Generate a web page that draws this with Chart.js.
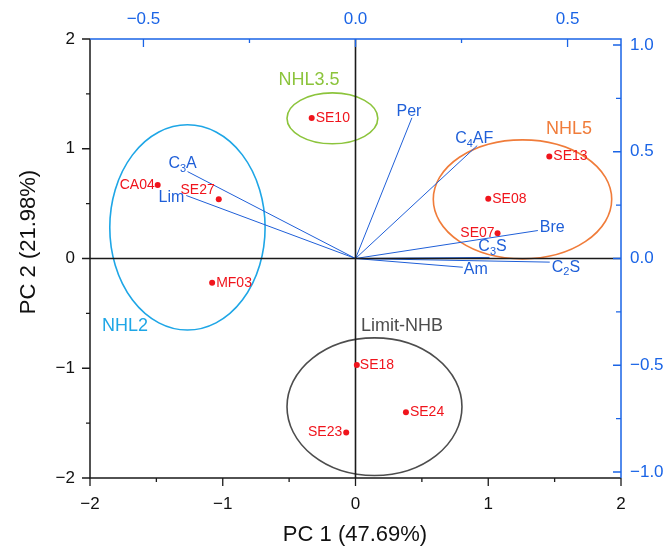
<!DOCTYPE html>
<html lang="en">
<head>
<meta charset="UTF-8">
<title>PCA biplot</title>
<script src="https://cdn.jsdelivr.net/npm/chart.js@4.4.1/dist/chart.umd.min.js"></script>
<style>
  html, body { margin: 0; padding: 0; background: #fff; }
  #wrap { width: 665px; height: 551px; }
</style>
</head>
<body>
<div id="wrap"><canvas id="pca" width="665" height="551"></canvas></div>
<script>
// sample scores (bottom / left axes)
var sampleNames = ['CA04', 'SE27', 'MF03', 'SE10', 'SE13', 'SE08', 'SE07', 'SE18', 'SE24', 'SE23'];
var pc1Scores = [-1.49, -1.03, -1.08, -0.33, 1.46, 1.00, 1.07, 0.01, 0.38, -0.07];
var pc2Scores = [0.67, 0.54, -0.22, 1.28, 0.93, 0.545, 0.23, -0.97, -1.40, -1.585];

// variable loadings (top / right axes), "_" = subscript
var varNames = ['C_3A', 'Lim', 'Per', 'C_4AF', 'Bre', 'C_3S', 'Am', 'C_2S'];
var pc1Loadings = [-0.396, -0.399, 0.133, 0.287, 0.430, 0.316, 0.253, 0.458];
var pc2Loadings = [0.407, 0.295, 0.659, 0.529, 0.131, 0.005, -0.041, -0.017];

// groups (ellipses in score units)
var groupNames = ['NHL2', 'NHL3.5', 'NHL5', 'Limit-NHB'];
var groupCx = [-1.266, -0.174, 1.258, 0.143];
var groupCy = [0.283, 1.277, 0.539, -1.350];
var groupRx = [0.585, 0.342, 0.672, 0.659];
var groupRy = [0.935, 0.232, 0.542, 0.627];

// tick labels
var scoreTicks = [-2, -1, 0, 1, 2];
var loadXTicks = [-0.5, 0, 0.5];
var loadYTicks = [-1, -0.5, 0, 0.5, 1];

// ---- styling ----
var FONT = '"Liberation Sans", Arial, sans-serif';
var RED = '#f0141c';
var BLUE = '#1f5fd8';
var AXBLUE = '#1a64e6';
var groupColors = ['#1ea6e6', '#8cc43c', '#f07c3a', '#4d4d4d'];
// where the group names sit (score units)
var groupLabelAt = [[-1.736, -0.615], [-0.350, 1.626], [1.608, 1.180], [0.350, -0.615]];
// sample label placement: [align, dx, dy]
var sampleLabelPos = {
  CA04: ['right', -3, 0], SE27: ['right', -4, -9], MF03: ['left', 4, 0],
  SE10: ['left', 4, 0], SE13: ['left', 4, 0], SE08: ['left', 4, 0],
  SE07: ['right', -3, 0], SE18: ['left', 3, 0], SE24: ['left', 4, 0],
  SE23: ['right', -4, 0]
};
// loading label placement: [align, dx, dy]
var varLabelPos = {
  C_3A: ['center', -5, -8], Lim: ['right', -2, 2], Per: ['center', -3, -6],
  C_4AF: ['center', -3, -7], Bre: ['left', 2, -3], C_3S: ['center', 3, -11],
  Am: ['left', 1, 2], C_2S: ['left', 2, 5]
};

function fmt(v, dec) {
  var s = Math.abs(v).toFixed(dec);
  return v < 0 ? '\u2212' + s : s;
}

// text with subscripts, vertically centred on y
function drawRich(ctx, name, x, y, align, size) {
  var parts = [];
  for (var k = 0; k < name.length; k++) {
    if (name[k] === '_') { parts.push({ t: name[k + 1], sub: true }); k++; }
    else parts.push({ t: name[k], sub: false });
  }
  var subSize = Math.round(size * 0.7);
  var w = 0;
  parts.forEach(function (p) {
    ctx.font = (p.sub ? subSize : size) + 'px ' + FONT;
    p.w = ctx.measureText(p.t).width;
    w += p.w;
  });
  var sx = align === 'center' ? x - w / 2 : (align === 'right' ? x - w : x);
  ctx.textAlign = 'left';
  ctx.textBaseline = 'middle';
  parts.forEach(function (p) {
    ctx.font = (p.sub ? subSize : size) + 'px ' + FONT;
    ctx.fillText(p.t, sx, p.sub ? y + size * 0.32 : y);
    sx += p.w;
  });
}

var biplotPlugin = {
  id: 'biplot',
  beforeDatasetsDraw: function (chart) {
    var ctx = chart.ctx, xs = chart.scales.x, ys = chart.scales.y;
    ctx.save();
    groupNames.forEach(function (g, i) {
      var cx = xs.getPixelForValue(groupCx[i]);
      var cy = ys.getPixelForValue(groupCy[i]);
      var rx = xs.getPixelForValue(groupCx[i] + groupRx[i]) - cx;
      var ry = cy - ys.getPixelForValue(groupCy[i] + groupRy[i]);
      ctx.beginPath();
      ctx.ellipse(cx, cy, rx, ry, 0, 0, Math.PI * 2);
      ctx.strokeStyle = groupColors[i];
      ctx.lineWidth = 1.6;
      ctx.stroke();
    });
    ctx.restore();
  },
  afterDatasetDraw: function (chart, args) {
    // zero lines go over the loading vectors, under the sample points
    if (args.index !== 1) return;
    var ctx = chart.ctx, a = chart.chartArea;
    var x0 = chart.scales.x.getPixelForValue(0), y0 = chart.scales.y.getPixelForValue(0);
    ctx.save();
    ctx.strokeStyle = '#1a1a1a';
    ctx.lineWidth = 1.6;
    ctx.beginPath();
    ctx.moveTo(x0, a.top); ctx.lineTo(x0, a.bottom);
    ctx.moveTo(a.left, y0); ctx.lineTo(a.right, y0);
    ctx.stroke();
    ctx.restore();
  },
  afterDraw: function (chart) {
    var ctx = chart.ctx, a = chart.chartArea, s = chart.scales;
    ctx.save();

    // sample labels
    ctx.fillStyle = RED;
    sampleNames.forEach(function (n, i) {
      var p = sampleLabelPos[n];
      drawRich(ctx, n, s.x.getPixelForValue(pc1Scores[i]) + p[1], s.y.getPixelForValue(pc2Scores[i]) + p[2], p[0], 14);
    });
    // loading labels
    ctx.fillStyle = BLUE;
    varNames.forEach(function (n, i) {
      var p = varLabelPos[n];
      drawRich(ctx, n, s.x2.getPixelForValue(pc1Loadings[i]) + p[1], s.y2.getPixelForValue(pc2Loadings[i]) + p[2], p[0], 16);
    });
    // group names
    groupNames.forEach(function (g, i) {
      ctx.fillStyle = groupColors[i];
      drawRich(ctx, g, s.x.getPixelForValue(groupLabelAt[i][0]), s.y.getPixelForValue(groupLabelAt[i][1]), 'center', 18);
    });

    // frame
    ctx.lineWidth = 1.5;
    ctx.strokeStyle = '#1a1a1a';
    ctx.beginPath();
    ctx.moveTo(a.left, a.top); ctx.lineTo(a.left, a.bottom); ctx.lineTo(a.right, a.bottom);
    ctx.stroke();
    ctx.strokeStyle = AXBLUE;
    ctx.beginPath();
    ctx.moveTo(a.left, a.top); ctx.lineTo(a.right, a.top); ctx.lineTo(a.right, a.bottom);
    ctx.stroke();

    // tick marks (major + minor)
    var v, px, len;
    ctx.lineWidth = 1.3;
    ctx.strokeStyle = '#1a1a1a';
    ctx.beginPath();
    for (v = -2; v <= 2.001; v += 0.5) {
      len = Math.abs(v % 1) < 1e-6 ? 8 : 4;
      px = s.y.getPixelForValue(v);
      ctx.moveTo(a.left - len, px); ctx.lineTo(a.left, px);
      px = s.x.getPixelForValue(v);
      ctx.moveTo(px, a.bottom); ctx.lineTo(px, a.bottom + len);
    }
    ctx.stroke();
    ctx.strokeStyle = AXBLUE;
    ctx.beginPath();
    for (v = -0.5; v <= 0.501; v += 0.25) {
      len = Math.abs((v * 2) % 1) < 1e-6 ? 8 : 4;
      px = s.x2.getPixelForValue(v);
      ctx.moveTo(px, a.top); ctx.lineTo(px, a.top + len);
    }
    for (v = -1; v <= 1.001; v += 0.25) {
      len = Math.abs((v * 2) % 1) < 1e-6 ? 8 : 5;
      px = s.y2.getPixelForValue(v);
      ctx.moveTo(a.right - len, px); ctx.lineTo(a.right, px);
    }
    ctx.stroke();

    // axis titles
    ctx.fillStyle = '#111';
    ctx.font = '22px ' + FONT;
    ctx.textAlign = 'center';
    ctx.textBaseline = 'middle';
    ctx.fillText('PC 1 (47.69%)', 355, 535);
    ctx.translate(29, 242);
    ctx.rotate(-Math.PI / 2);
    ctx.fillText('PC 2 (21.98%)', 0, 0);
    ctx.restore();
  }
};

var datasets = [{
  label: 'Samples',
  data: sampleNames.map(function (n, i) { return { x: pc1Scores[i], y: pc2Scores[i] }; }),
  xAxisID: 'x', yAxisID: 'y',
  backgroundColor: RED, borderColor: RED,
  pointRadius: 3, pointBorderWidth: 0, showLine: false
}];
varNames.forEach(function (n, i) {
  datasets.push({
    label: n,
    data: [{ x: 0, y: 0 }, { x: pc1Loadings[i], y: pc2Loadings[i] }],
    xAxisID: 'x2', yAxisID: 'y2',
    showLine: true, borderColor: BLUE, borderWidth: 1,
    pointRadius: 0, fill: false
  });
});

function tickSet(list) {
  return function (scale) { scale.ticks = list.map(function (v) { return { value: v }; }); };
}

new Chart(document.getElementById('pca'), {
  type: 'scatter',
  data: { datasets: datasets },
  plugins: [biplotPlugin],
  options: {
    responsive: false,
    animation: false,
    layout: { padding: 0 },
    plugins: { legend: { display: false }, tooltip: { enabled: false } },
    scales: {
      x: {
        type: 'linear', position: 'bottom', min: -2, max: 2,
        afterBuildTicks: tickSet(scoreTicks),
        afterFit: function (sc) { sc.height = 73; },
        grid: { display: false, drawTicks: false }, border: { display: false },
        ticks: { color: '#111', font: { family: FONT, size: 17 }, padding: 16, maxRotation: 0, autoSkip: false,
          callback: function (v) { return fmt(v, 0); } }
      },
      y: {
        type: 'linear', position: 'left', min: -2, max: 2,
        afterBuildTicks: tickSet(scoreTicks),
        afterFit: function (sc) { sc.width = 90; },
        grid: { display: false, drawTicks: false }, border: { display: false },
        ticks: { color: '#111', font: { family: FONT, size: 17 }, padding: 15, autoSkip: false,
          callback: function (v) { return fmt(v, 0); } }
      },
      x2: {
        type: 'linear', position: 'top', min: -0.626, max: 0.626,
        afterBuildTicks: tickSet(loadXTicks),
        afterFit: function (sc) { sc.height = 39; },
        grid: { display: false, drawTicks: false }, border: { display: false },
        ticks: { color: AXBLUE, font: { family: FONT, size: 17 }, padding: 9, maxRotation: 0, autoSkip: false,
          callback: function (v) { return fmt(v, 1); } }
      },
      y2: {
        type: 'linear', position: 'right', min: -1.028, max: 1.028,
        afterBuildTicks: tickSet(loadYTicks),
        afterFit: function (sc) { sc.width = 44; },
        grid: { display: false, drawTicks: false }, border: { display: false },
        ticks: { color: AXBLUE, font: { family: FONT, size: 17 }, padding: 9, autoSkip: false,
          callback: function (v) { return fmt(v, 1); } }
      }
    }
  }
});
</script>
</body>
</html>
